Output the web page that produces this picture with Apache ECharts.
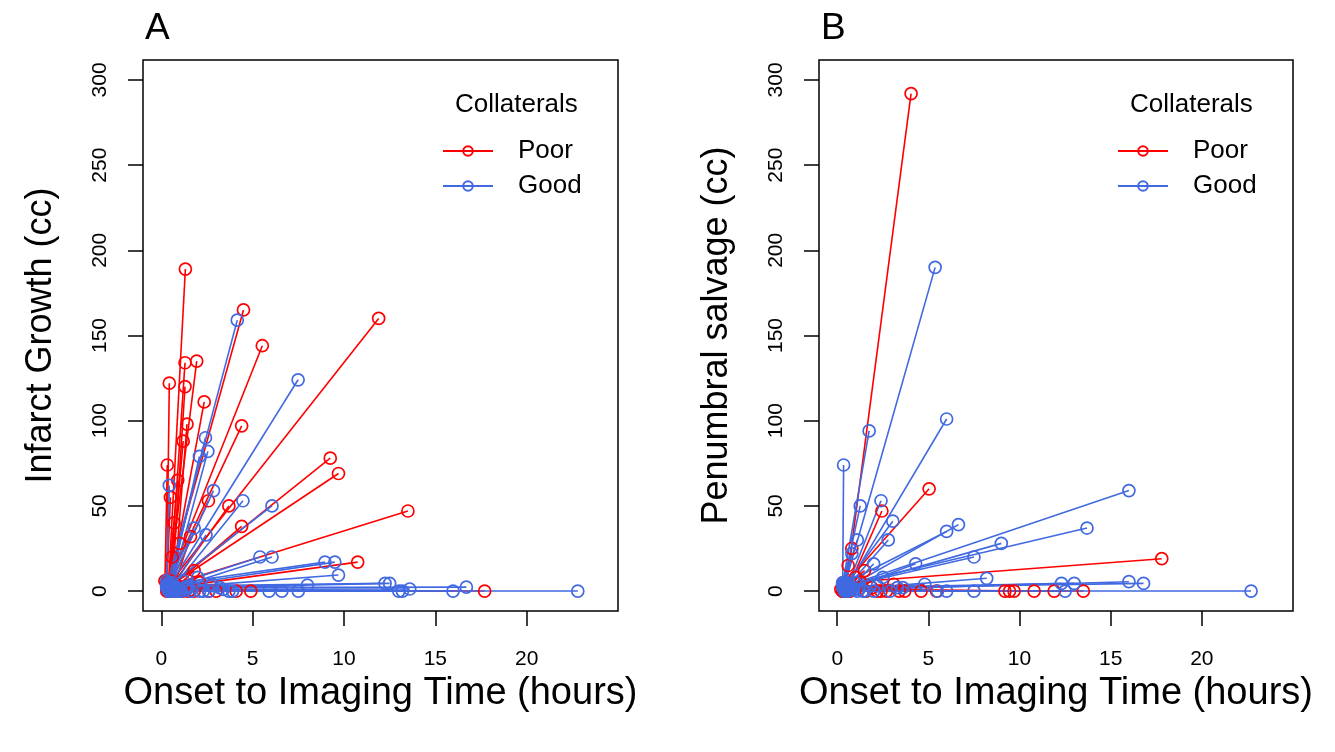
<!DOCTYPE html>
<html>
<head>
<meta charset="utf-8">
<title>Infarct growth and penumbral salvage</title>
<script src="https://cdn.jsdelivr.net/npm/echarts@6/dist/echarts.min.js"></script>
<style>
  html, body { margin: 0; padding: 0; background: #fff; }
  #chart { width: 1335px; height: 752px; }
</style>
</head>
<body>
<div id="chart"></div>
<script>
// tick labels
const xTicks = [0, 5, 10, 15, 20];
const yTicks = [0, 50, 100, 150, 200, 250, 300];

// Panel A - infarct growth (cc), poor collaterals
const growthPoorStartTime = [0.4, 0.3, 0.5, 0.4, 0.3, 0.6, 0.5, 0.7, 0.4, 0.3, 0.5, 0.4, 0.6, 0.3, 0.5, 0.7, 0.6, 0.2, 0.5, 0.3, 0.4, 0.4, 0.6, 0.5, 0.3, 0.7, 0.8, 0.4, 0.6, 0.9, 1.2, 1.5, 0.5, 0.4, 0.6, 0.3, 0.5];
const growthPoorStartValue = [4, 3, 6, 2, 5, 3, 4, 2, 6, 3, 5, 2, 4, 3, 2, 5, 3, 6, 4, 2, 3, 5, 2, 4, 1, 3, 2, 0, 0, 0, 0, 0, 0, 1, 2, 0, 3];
const growthPoorTime = [1.32, 4.5, 1.3, 1.94, 0.44, 1.3, 2.35, 1.41, 4.4, 5.53, 11.9, 9.25, 9.7, 13.5, 10.75, 3.7, 4.4, 0.33, 2.58, 0.5, 0.7, 0.9, 1.0, 1.2, 0.6, 1.6, 1.8, 0.7, 1.8, 2.6, 4.1, 4.9, 17.7, 0.9, 1.5, 2.1, 3.0];
const growthPoorValue = [189, 165, 134, 135, 122, 120, 111, 98, 97, 144, 160, 78, 69, 47, 17, 50, 38, 74, 53, 55, 40, 65, 28, 88, 20, 32, 12, 0, 0, 0, 0, 0, 0, 3, 0, 5, 0];

// Panel A - infarct growth (cc), good collaterals
const growthGoodStartTime = [0.3, 0.5, 0.4, 0.6, 0.5, 0.3, 0.4, 0.7, 0.5, 0.6, 0.4, 0.5, 0.8, 0.4, 0.6, 0.7, 0.9, 0.5, 0.6, 0.8, 1.1, 0.7, 0.4, 1.3, 0.5, 1.0, 1.6, 2.1, 2.6, 0.3, 0.4, 0.6, 0.8, 1.4, 0.3, 0.5, 0.4, 0.6, 0.5, 0.7];
const growthGoodStartValue = [3, 4, 2, 5, 3, 6, 2, 3, 4, 2, 5, 3, 2, 4, 3, 2, 1, 3, 2, 0, 0, 1, 0, 2, 0, 0, 0, 0, 0, 2, 1, 3, 2, 1, 2, 0, 1, 0, 3, 0];
const growthGoodTime = [4.16, 7.49, 2.42, 2.55, 2.09, 0.44, 2.86, 4.47, 6.06, 2.45, 1.8, 5.4, 6.06, 8.96, 9.5, 9.7, 8.0, 12.25, 12.5, 13.0, 13.2, 13.6, 15.97, 16.7, 22.8, 3.7, 5.9, 6.6, 7.5, 1.2, 1.5, 2.0, 2.8, 3.2, 1.0, 1.4, 2.3, 2.7, 3.4, 3.9];
const growthGoodValue = [159, 124, 90, 82, 79, 62, 59, 53, 50, 33, 37, 20, 20, 17, 17, 9.4, 3.5, 4.5, 4.5, 0, 0, 1.2, 0, 2.3, 0, 0, 0, 0, 0, 6, 3, 8, 4, 2, 0, 2, 0, 3, 1, 0];

// Panel B - penumbral salvage (cc), poor collaterals
const salvagePoorStartTime = [0.5, 0.4, 0.6, 0.5, 0.3, 0.4, 0.5, 0.2, 0.3, 0.5, 0.6, 0.4, 0.3, 0.5, 0.4, 0.6, 0.5, 0.5, 0.3, 0.4, 0.5, 0.6, 0.7, 0.3, 0.4, 0.6, 0.5];
const salvagePoorStartValue = [3, 4, 2, 5, 3, 2, 4, 1, 2, 0, 0, 1, 0, 1, 0, 0, 1, 0, 0, 2, 1, 0, 2, 3, 0, 1, 0];
const salvagePoorTime = [4.05, 5.04, 2.45, 17.8, 0.8, 1.5, 1.0, 0.3, 0.7, 2.2, 3.7, 4.6, 5.45, 9.2, 9.45, 9.7, 10.8, 11.9, 13.5, 1.3, 1.9, 2.7, 3.1, 0.6, 1.6, 2.4, 3.4];
const salvagePoorValue = [292, 60, 47, 19, 25, 12, 8, 0, 0, 0, 0, 0, 0, 0, 0, 0, 0, 0, 0, 5, 2, 0, 4, 15, 0, 0, 0];

// Panel B - penumbral salvage (cc), good collaterals
const salvageGoodStartTime = [0.4, 0.5, 0.3, 0.3, 0.5, 0.6, 0.4, 0.7, 0.5, 0.3, 0.6, 0.4, 0.5, 0.7, 0.6, 0.8, 0.5, 0.4, 0.9, 0.6, 1.2, 0.8, 0.5, 0.4, 1.5, 2.0, 0.3, 0.4, 0.6, 0.8, 1.1, 0.5, 0.3, 0.6, 0.4, 0.5, 0.7];
const salvageGoodStartValue = [3, 2, 4, 5, 3, 4, 2, 3, 5, 2, 4, 3, 2, 1, 3, 2, 1, 3, 1, 2, 1, 2, 0, 0, 0, 0, 4, 2, 1, 2, 0, 1, 3, 0, 2, 0, 1];
const salvageGoodTime = [5.37, 6.0, 1.75, 0.35, 16.0, 13.7, 9.0, 6.65, 6.0, 1.26, 2.4, 3.05, 2.8, 2.0, 7.5, 4.3, 8.2, 0.8, 12.3, 13.0, 16.0, 16.8, 12.5, 22.7, 6.0, 7.5, 1.1, 1.0, 1.8, 2.5, 3.3, 1.4, 2.2, 2.9, 3.6, 4.8, 5.5];
const salvageGoodValue = [190, 101, 94, 74, 59, 37, 28, 39, 35, 50, 53, 41, 30, 16, 20, 16, 7.5, 22, 4.5, 4.5, 5.5, 4.5, 0, 0, 0, 0, 30, 5, 3, 8, 2, 0, 3, 0, 2, 4, 0];

const RED = '#ff0000';
const BLUE = '#4169e1';
const FONT = 'Liberation Sans, Arial, sans-serif';

// one line series per patient: start point -> imaging time point
const patientLines = (name, color, idx, t0, v0, t1, v1) =>
  t1.map((t, i) => ({
    type: 'line',
    name: name,
    xAxisIndex: idx,
    yAxisIndex: idx,
    data: [[t0[i], v0[i]], [t, v1[i]]],
    symbol: 'circle',
    symbolSize: 12,
    lineStyle: { color: color, width: 1.6 },
    itemStyle: { color: 'rgba(255,255,255,0)', borderColor: color, borderWidth: 1.7 },
    emphasis: { disabled: true },
    silent: true,
    animation: false
  }));

const xAxisFor = (gridIndex) => ({
  type: 'value',
  gridIndex: gridIndex,
  min: -1,
  max: 25,
  name: 'Onset to Imaging Time (hours)',
  nameLocation: 'middle',
  nameGap: 60,
  nameTextStyle: { fontSize: 38, color: '#000', fontFamily: FONT },
  axisLine: { show: false, onZero: false },
  splitLine: { show: false },
  axisTick: { show: true, length: 15, lineStyle: { color: '#000', width: 1.5 }, customValues: xTicks },
  axisLabel: { color: '#000', fontSize: 21, fontFamily: FONT, margin: 38, customValues: xTicks }
});

const yAxisFor = (gridIndex, name) => ({
  type: 'value',
  gridIndex: gridIndex,
  min: -11.7,
  max: 311.7,
  name: name,
  nameLocation: 'middle',
  nameGap: 84,
  nameTextStyle: { fontSize: 36, color: '#000', fontFamily: FONT },
  axisLine: { show: false, onZero: false },
  splitLine: { show: false },
  axisTick: { show: true, length: 15, lineStyle: { color: '#000', width: 1.5 }, customValues: yTicks },
  axisLabel: { color: '#000', fontSize: 21, fontFamily: FONT, margin: 32, rotate: 90, customValues: yTicks }
});

const legendFor = (left) => ({
  left: left,
  top: 133,
  orient: 'vertical',
  selectedMode: false,
  data: ['Poor', 'Good'],
  itemWidth: 50,
  itemHeight: 12,
  itemGap: 9,
  textStyle: { fontSize: 26, color: '#000', fontFamily: FONT, padding: [0, 0, 0, 20] }
});

const chart = echarts.init(document.getElementById('chart'));
chart.setOption({
  backgroundColor: '#fff',
  animation: false,
  title: [
    { text: 'A', left: 140, top: 5, textStyle: { fontSize: 37, fontWeight: 'normal', color: '#000', fontFamily: FONT } },
    { text: 'B', left: 816, top: 5, textStyle: { fontSize: 37, fontWeight: 'normal', color: '#000', fontFamily: FONT } },
    { text: 'Collaterals', left: 450, top: 87, textStyle: { fontSize: 26, fontWeight: 'normal', color: '#000', fontFamily: FONT } },
    { text: 'Collaterals', left: 1125, top: 87, textStyle: { fontSize: 26, fontWeight: 'normal', color: '#000', fontFamily: FONT } }
  ],
  legend: [legendFor(437), legendFor(1112)],
  grid: [
    { left: 143, top: 60, width: 475, height: 551, show: true, borderColor: '#000', borderWidth: 1.5, containLabel: false },
    { left: 819, top: 60, width: 474, height: 551, show: true, borderColor: '#000', borderWidth: 1.5, containLabel: false }
  ],
  xAxis: [xAxisFor(0), xAxisFor(1)],
  yAxis: [yAxisFor(0, 'Infarct Growth (cc)'), yAxisFor(1, 'Penumbral salvage (cc)')],
  series: [
    ...patientLines('Poor', RED, 0, growthPoorStartTime, growthPoorStartValue, growthPoorTime, growthPoorValue),
    ...patientLines('Good', BLUE, 0, growthGoodStartTime, growthGoodStartValue, growthGoodTime, growthGoodValue),
    ...patientLines('Poor', RED, 1, salvagePoorStartTime, salvagePoorStartValue, salvagePoorTime, salvagePoorValue),
    ...patientLines('Good', BLUE, 1, salvageGoodStartTime, salvageGoodStartValue, salvageGoodTime, salvageGoodValue)
  ]
});
</script>
</body>
</html>
